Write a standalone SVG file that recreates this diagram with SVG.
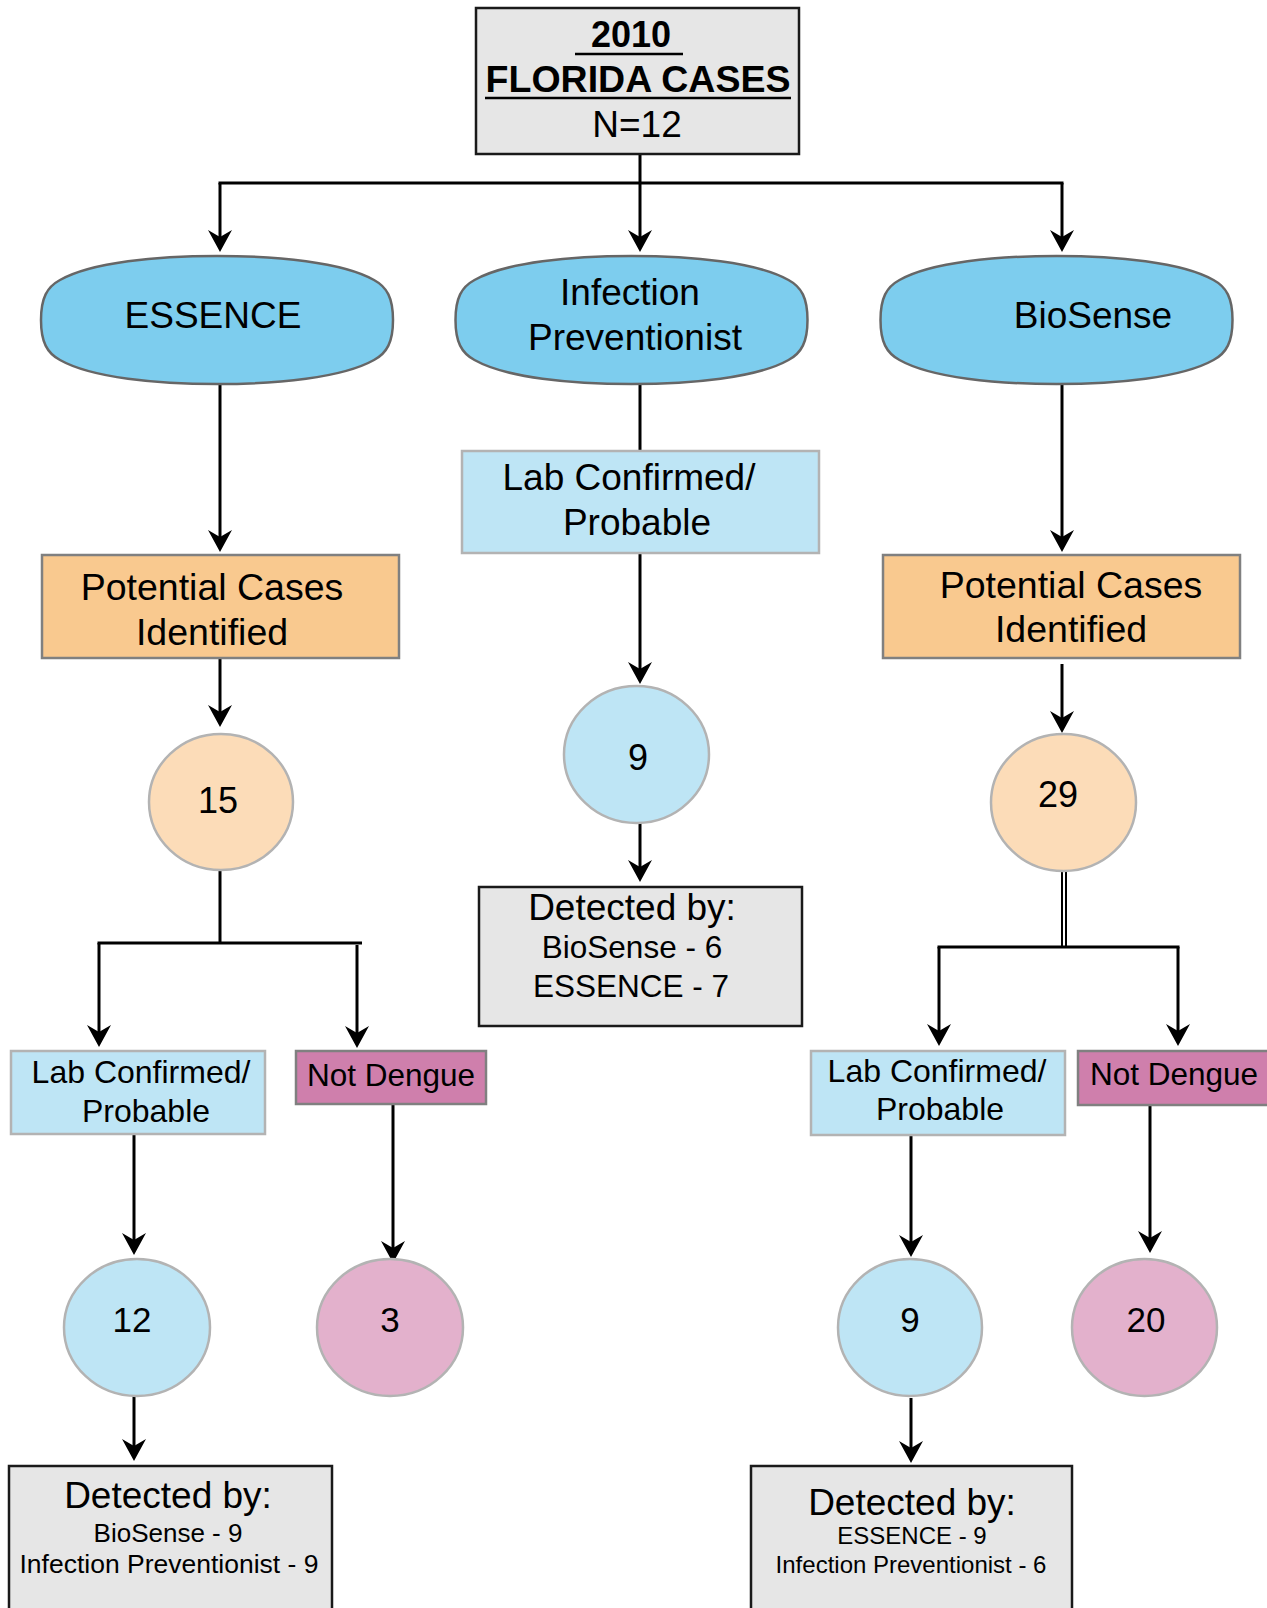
<svg xmlns="http://www.w3.org/2000/svg" width="1267" height="1608" viewBox="0 0 1267 1608">
<style>
text{font-family:"Liberation Sans",Arial,sans-serif;fill:#000;text-anchor:middle}
.c{stroke:#000;stroke-width:3;fill:none}
.a{marker-end:url(#ah)}
.grey{fill:#e6e6e6;stroke:#1a1a1a;stroke-width:2.5}
.oval{fill:#7dcdee;stroke:#666;stroke-width:2.5}
.pot{fill:#f9c98f;stroke:#808080;stroke-width:2.5}
.lab{fill:#bee5f5;stroke:#b3b3b3;stroke-width:2.5}
.nd{fill:#cf7fac;stroke:#808080;stroke-width:2.5}
.peach{fill:#fcdcb8;stroke:#b3b3b3;stroke-width:2.5}
.blue{fill:#bee5f5;stroke:#b3b3b3;stroke-width:2.5}
.pink{fill:#e3b1cc;stroke:#b3b3b3;stroke-width:2.5}
</style>
<defs>
<marker id="ah" markerUnits="userSpaceOnUse" markerWidth="24" markerHeight="24" refX="16" refY="12" orient="auto" viewBox="0 0 24 24">
<path d="M0,0 L22,12 L0,24 L7,12 Z" fill="#000"/>
</marker>
<path id="ov" d="M -176,0 C -176,-22 -170,-33 -157,-40 C -125,-58 -60,-64 0,-64 C 60,-64 125,-58 157,-40 C 170,-33 176,-22 176,0 C 176,22 170,33 157,40 C 125,58 60,64 0,64 C -60,64 -125,58 -157,40 C -170,33 -176,22 -176,0 Z"/>
</defs>

<g id="connectors">
<line class="c a" x1="640" y1="154" x2="640" y2="246"/>
<line class="c" x1="218.5" y1="183" x2="1063.5" y2="183"/>
<line class="c a" x1="220" y1="183" x2="220" y2="246"/>
<line class="c a" x1="1062" y1="183" x2="1062" y2="246"/>
<line class="c a" x1="220" y1="384" x2="220" y2="546"/>
<line class="c a" x1="220" y1="658" x2="220" y2="721"/>
<line class="c" x1="220" y1="871" x2="220" y2="943"/>
<line class="c" x1="97.5" y1="943" x2="362" y2="943"/>
<line class="c a" x1="99" y1="943" x2="99" y2="1041"/>
<line class="c a" x1="357" y1="945" x2="357" y2="1042"/>
<line class="c a" x1="134" y1="1134" x2="134" y2="1249"/>
<line class="c a" x1="393" y1="1104" x2="393" y2="1257"/>
<line class="c a" x1="134" y1="1396" x2="134" y2="1455"/>
<line class="c" x1="640" y1="384" x2="640" y2="451"/>
<line class="c a" x1="640" y1="553" x2="640" y2="678"/>
<line class="c a" x1="640" y1="823" x2="640" y2="876"/>
<line class="c a" x1="1062" y1="384" x2="1062" y2="546"/>
<line class="c a" x1="1062" y1="664" x2="1062" y2="727"/>
<line class="c" style="stroke-width:2" x1="1062" y1="871" x2="1062" y2="948"/>
<line class="c" style="stroke-width:2" x1="1066" y1="871" x2="1066" y2="948"/>
<line class="c" x1="937.5" y1="947" x2="1179.5" y2="947"/>
<line class="c a" x1="939" y1="947" x2="939" y2="1040"/>
<line class="c a" x1="1178" y1="947" x2="1178" y2="1040"/>
<line class="c a" x1="911" y1="1135" x2="911" y2="1251"/>
<line class="c a" x1="1150" y1="1105" x2="1150" y2="1247"/>
<line class="c a" x1="911" y1="1398" x2="911" y2="1457"/>
</g>

<g id="top">
<rect class="grey" x="476" y="8" width="323" height="146"/>
<text x="631" y="47" font-size="36" font-weight="bold">2010</text>
<line x1="575" y1="54" x2="683" y2="54" stroke="#000" stroke-width="2.5"/>
<text x="638" y="92" font-size="37.5" font-weight="bold">FLORIDA CASES</text>
<line x1="485" y1="98" x2="791" y2="98" stroke="#000" stroke-width="2.5"/>
<text x="637" y="137" font-size="37">N=12</text>
</g>

<g id="essence">
<use href="#ov" class="oval" transform="translate(217,320)"/>
<text x="213" y="328" font-size="37">ESSENCE</text>
</g>
<g id="ip">
<use href="#ov" class="oval" transform="translate(631.5,320)"/>
<text x="630" y="305" font-size="37">Infection</text>
<text x="635" y="350" font-size="37">Preventionist</text>
</g>
<g id="biosense">
<use href="#ov" class="oval" transform="translate(1056.5,320)"/>
<text x="1093" y="328" font-size="37">BioSense</text>
</g>

<g id="potential-left">
<rect class="pot" x="42" y="555" width="357" height="103"/>
<text x="212" y="600" font-size="37.5">Potential Cases</text>
<text x="212" y="645" font-size="37.5">Identified</text>
</g>
<g id="lab-center">
<rect class="lab" x="462" y="451" width="357" height="102"/>
<text x="629" y="490" font-size="37">Lab Confirmed/</text>
<text x="637" y="535" font-size="37">Probable</text>
</g>
<g id="potential-right">
<rect class="pot" x="883" y="555" width="357" height="103"/>
<text x="1071" y="598" font-size="37.5">Potential Cases</text>
<text x="1071" y="642" font-size="37.5">Identified</text>
</g>

<g id="n15">
<ellipse class="peach" cx="221" cy="802" rx="72" ry="68"/>
<text x="218" y="813" font-size="36">15</text>
</g>
<g id="n9c">
<ellipse class="blue" cx="636.5" cy="754.5" rx="72.5" ry="68.5"/>
<text x="638" y="770" font-size="36">9</text>
</g>
<g id="n29">
<ellipse class="peach" cx="1063.5" cy="802.5" rx="72.5" ry="68.5"/>
<text x="1058" y="807" font-size="36">29</text>
</g>

<g id="detected-center">
<rect class="grey" x="479" y="887" width="323" height="139"/>
<text x="632" y="920" font-size="37">Detected by:</text>
<text x="632" y="958" font-size="31.5">BioSense - 6</text>
<text x="631" y="997" font-size="31.5">ESSENCE - 7</text>
</g>

<g id="lab-left">
<rect class="lab" x="11" y="1051" width="254" height="83"/>
<text x="141" y="1083" font-size="32">Lab Confirmed/</text>
<text x="146" y="1122" font-size="32">Probable</text>
</g>
<g id="nd-left">
<rect class="nd" x="296" y="1051" width="190" height="53"/>
<text x="391" y="1086" font-size="31.5">Not Dengue</text>
</g>
<g id="lab-right">
<rect class="lab" x="811" y="1051" width="254" height="84"/>
<text x="937" y="1082" font-size="32">Lab Confirmed/</text>
<text x="940" y="1120" font-size="32">Probable</text>
</g>
<g id="nd-right">
<rect class="nd" x="1078" y="1051" width="195" height="54"/>
<text x="1174" y="1085" font-size="31.5">Not Dengue</text>
</g>

<g id="n12">
<ellipse class="blue" cx="137" cy="1327.5" rx="73" ry="68.5"/>
<text x="132" y="1332" font-size="35">12</text>
</g>
<g id="n3">
<ellipse class="pink" cx="390" cy="1327.5" rx="73" ry="68.5"/>
<text x="390" y="1332" font-size="35">3</text>
</g>
<g id="n9r">
<ellipse class="blue" cx="910" cy="1327.5" rx="72" ry="68.5"/>
<text x="910" y="1332" font-size="35">9</text>
</g>
<g id="n20">
<ellipse class="pink" cx="1144.5" cy="1327.5" rx="72.5" ry="68.5"/>
<text x="1146" y="1332" font-size="35">20</text>
</g>

<g id="detected-left">
<rect class="grey" x="9" y="1466" width="323" height="160"/>
<text x="168" y="1508" font-size="37">Detected by:</text>
<text x="168" y="1542" font-size="26">BioSense - 9</text>
<text x="169" y="1573" font-size="26.5">Infection Preventionist - 9</text>
</g>
<g id="detected-right">
<rect class="grey" x="751" y="1466" width="321" height="160"/>
<text x="912" y="1515" font-size="37">Detected by:</text>
<text x="912" y="1544" font-size="24">ESSENCE - 9</text>
<text x="911" y="1573" font-size="24">Infection Preventionist - 6</text>
</g>
</svg>
